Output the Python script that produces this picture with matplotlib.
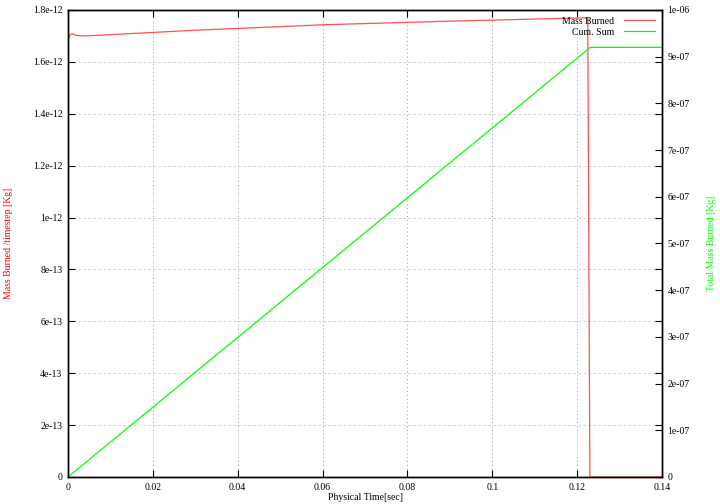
import matplotlib
matplotlib.use("Agg")
import matplotlib.pyplot as plt

plt.rcParams['font.family'] = ['Liberation Serif', 'DejaVu Serif']
plt.rcParams['font.size'] = 7

# Data
t_burn = [0.0, 0.0005, 0.001, 0.002, 0.004, 0.03, 0.06, 0.09, 0.1225, 0.1230, 0.14]
mass_burn = [1.685e-12, 1.705e-12, 1.708e-12, 1.702e-12, 1.700e-12, 1.722e-12,
             1.743e-12, 1.757e-12, 1.770e-12, 0.0, 0.0]
t_cum = [0.0, 0.1231, 0.14]
cum_sum = [0.0, 9.2e-7, 9.2e-7]

x_ticks = [0, 0.02, 0.04, 0.06, 0.08, 0.1, 0.12, 0.14]
x_labels = ["0", "0.02", "0.04", "0.06", "0.08", "0.1", "0.12", "0.14"]
y1_ticks = [0, 2e-13, 4e-13, 6e-13, 8e-13, 1e-12, 1.2e-12, 1.4e-12, 1.6e-12, 1.8e-12]
y1_labels = ["0", "2e-13", "4e-13", "6e-13", "8e-13", "1e-12", "1.2e-12", "1.4e-12", "1.6e-12", "1.8e-12"]
y2_ticks = [0, 1e-7, 2e-7, 3e-7, 4e-7, 5e-7, 6e-7, 7e-7, 8e-7, 9e-7, 1e-6]
y2_labels = ["0", "1e-07", "2e-07", "3e-07", "4e-07", "5e-07", "6e-07", "7e-07", "8e-07", "9e-07", "1e-06"]

fig = plt.figure(figsize=(7.2, 5.04), dpi=100)
ax = fig.add_axes([68/720, 27/504, 594/720, 467/504])
ax2 = ax.twinx()

l1, = ax.plot(t_burn, mass_burn, color='#ff5050', lw=0.9, label='Mass Burned')
l2, = ax2.plot(t_cum, cum_sum, color='#00ff00', lw=0.9, label='Cum. Sum')

ax.set_xlim(0, 0.14)
ax.set_ylim(0, 1.8e-12)
ax2.set_ylim(0, 1e-6)

ax.set_xticks(x_ticks)
ax.set_xticklabels(x_labels)
ax.set_yticks(y1_ticks)
ax.set_yticklabels(y1_labels)
ax2.set_yticks(y2_ticks)
ax2.set_yticklabels(y2_labels)

ax.tick_params(direction='in', length=5, width=0.8, top=True, right=True, pad=4)
ax2.tick_params(direction='in', length=5, width=0.8, pad=4)

for a in (ax, ax2):
    for s in a.spines.values():
        s.set_linewidth(1.0)
        s.set_color('black')

ax.xaxis.grid(True, linestyle=(0, (1, 3)), color='#999999', lw=0.7)
ax.yaxis.grid(True, linestyle=(0, (3, 3)), color='#c8c8c8', lw=0.6)
ax.set_axisbelow(True)

ax.set_xlabel("Physical Time[sec]", labelpad=1)
ax.set_ylabel("Mass Burned /timestep [Kg]", color='#ff0000', labelpad=14)
ax2.set_ylabel("Total Mass Burned [Kg]", color='#00ff00', labelpad=12)

leg = ax.legend(handles=[l1, l2], loc='upper right', frameon=False,
                markerfirst=False, handlelength=3.2, borderaxespad=0.3,
                labelspacing=0.2, handletextpad=1.0, fontsize=7)
for txt in leg.get_texts():
    txt.set_ha('right')

fig.savefig("out.png", dpi=100)
